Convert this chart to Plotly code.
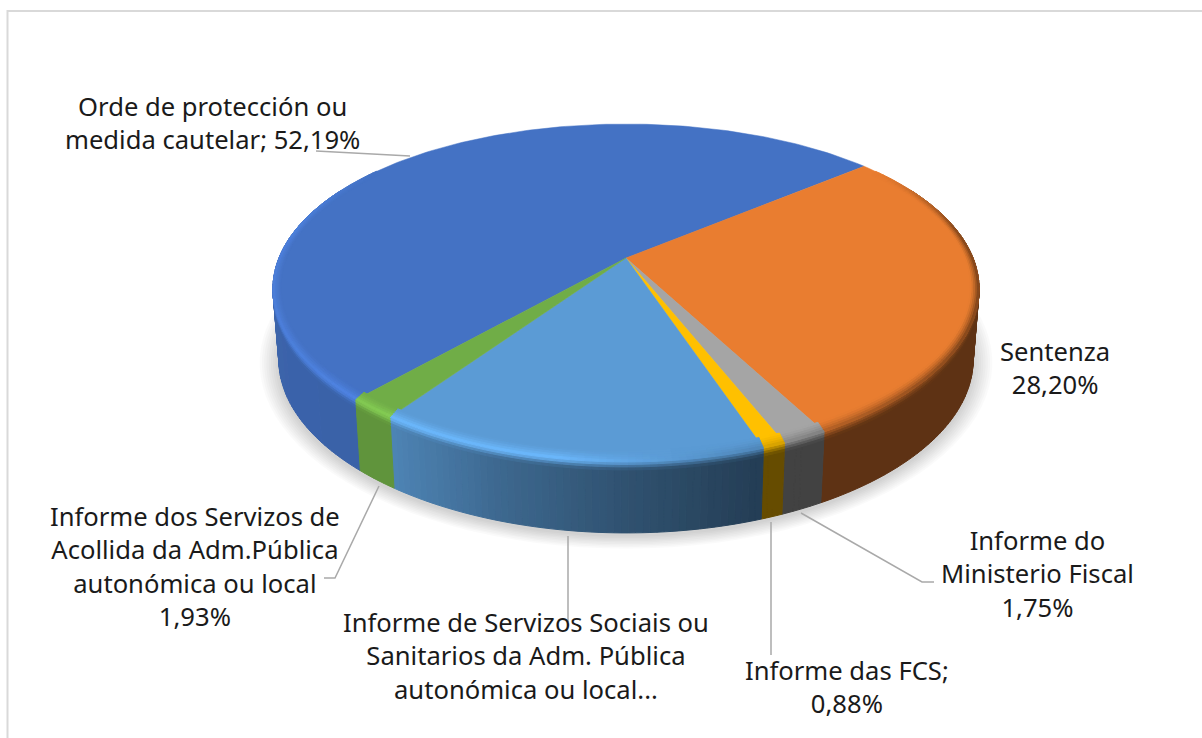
import math
import numpy as np
import plotly.graph_objects as go

# ---- data ----
categories = ["Orde de protección ou medida cautelar", "Sentenza", "Informe do Ministerio Fiscal",
              "Informe das FCS", "Informe de Servizos Sociais ou Sanitarios da Adm. Pública autonómica ou local",
              "Informe dos Servizos de Acollida da Adm.Pública autonómica ou local"]
values = [52.19, 28.20, 1.75, 0.88, 15.05, 1.93]
colors = ["#4472C4", "#E97D30", "#A5A5A5", "#FFC000", "#5B9BD5", "#70AD47"]
label_texts = [
    "Orde de protección ou<br>medida cautelar; 52,19%",
    "Sentenza<br>28,20%",
    "Informe do<br>Ministerio Fiscal<br>1,75%",
    "Informe das FCS;<br>0,88%",
    "Informe de Servizos Sociais ou<br>Sanitarios da Adm. Pública<br>autonómica ou local...",
    "Informe dos Servizos de<br>Acollida da Adm.Pública<br>autonómica ou local<br>1,93%",
]
label_pos = [(212, 123), (1055, 368), (1037, 574), (847, 687), (526, 656), (195, 566)]
leaders = [
    [(316, 151), (410, 156)],
    [(801, 513), (922, 582), (934, 582)],
    [(771, 522), (771, 655)],
    [(568, 536), (568, 622)],
    [(379, 486), (335, 578), (324, 578)],
]

# ---- projection of the pie disc ----
START = 50.0 - values[0] * 3.6
X0, Y0, R = 626.0, 258.0, 347.0
C, A = 0.207, -108.3
SKEW = 8.0
DEPTH, BOTTOM_SCALE = 71.0, 0.983
STEP = 1.0


def proj(theta, su=1.0, sv=1.0):
    t = math.radians(theta)
    u, v = math.sin(t) * su, math.cos(t) * sv
    w = 1 + C * v
    return X0 + (R * u + SKEW * u * v) / w, (A * v + Y0) / w


def bottom(theta, dy=DEPTH, scale=BOTTOM_SCALE):
    x, y = proj(theta)
    return X0 + (x - X0) * scale, y + dy


def hx(c):
    return [int(c[i:i + 2], 16) for i in (1, 3, 5)]


def rgb(base, f):
    return "rgb(%d,%d,%d)" % tuple(min(255, max(0, int(round(b * f / 2.0)) * 2)) for b in base)


def side_f(x):
    return float(np.interp(x, [271, 390, 500, 620, 760, 981], [0.87, 0.85, 0.67, 0.53, 0.40, 0.40]))


def hl_f(x):
    return float(np.interp(x, [271, 390, 560, 660, 760, 981], [1.12, 1.2, 1.2, 1.02, 0.85, 0.5]))


fig = go.Figure()


def add_polys(groups):
    for col, polys in groups.items():
        xs, ys = [], []
        for p in polys:
            xs += [q[0] for q in p] + [p[0][0], None]
            ys += [q[1] for q in p] + [p[0][1], None]
        fig.add_trace(go.Scatter(x=xs, y=ys, mode="lines", fill="toself", fillcolor=col,
                                 line=dict(color=col, width=1, simplify=False),
                                 hoverinfo="skip", showlegend=False))


# slice angle spans
spans = []
a = START
for val in values:
    b = a + val * 3.6
    spans.append((a, b))
    a = b


def segs(a, b):
    n = max(1, int(math.ceil((b - a) / STEP)))
    e = np.linspace(a, b, n + 1)
    return list(zip(e[:-1], e[1:]))


# soft shadow under the disc
ts = np.arange(0, 360, 3.0)
for i in range(9):
    d = 13 - i * 1.5
    pts = [bottom(t, DEPTH + 3, BOTTOM_SCALE) for t in ts]
    cy = 293 + DEPTH + 3
    xs = [X0 + (p[0] - X0) * (1 + 1.5 * d / 350) for p in pts]
    ys = [cy + (p[1] - cy) * (1 + d / 172) for p in pts]
    fig.add_trace(go.Scatter(x=xs + xs[:1], y=ys + ys[:1], mode="lines", fill="toself",
                             fillcolor="rgba(0,0,0,0.018)", line=dict(width=0),
                             hoverinfo="skip", showlegend=False))

# side wall
groups = {}
for (a, b), c in zip(spans, colors):
    base = hx(c)
    for t0, t1 in segs(a, b):
        if math.cos(math.radians((t0 + t1) / 2)) > 0.45:
            continue
        p = [proj(t0), proj(t1), bottom(t1), bottom(t0)]
        xm = (p[0][0] + p[1][0]) / 2
        groups.setdefault(rgb(base, side_f(xm)), []).append(p)
add_polys(groups)

# rounded transition between the rim and the wall
SIDE_BANDS = [(0.0, 2.5, 0.25), (2.5, 5.0, 0.6), (5.0, 8.0, 0.9)]
for y0, y1, k in reversed(SIDE_BANDS):
    groups = {}
    for (a, b), c in zip(spans, colors):
        base = hx(c)
        for t0, t1 in segs(a, b):
            if math.cos(math.radians((t0 + t1) / 2)) > 0.45:
                continue
            sc0, sc1 = 1 - 0.017 * y0 / DEPTH, 1 - 0.017 * y1 / DEPTH
            p = [bottom(t0, y0, sc0), bottom(t1, y0, sc0), bottom(t1, y1, sc1), bottom(t0, y1, sc1)]
            xm = (p[0][0] + p[1][0]) / 2
            f = hl_f(xm) * (1 - k) + side_f(xm) * k
            groups.setdefault(rgb(base, f), []).append(p)
    add_polys(groups)

# top face wedges (apex at the disc centre)
for (a, b), c in zip(spans, colors):
    pts = [proj(t) for t in np.arange(a, b, 1.0)] + [proj(b)]
    xs = [X0] + [p[0] for p in pts] + [X0]
    ys = [Y0] + [p[1] for p in pts] + [Y0]
    fig.add_trace(go.Scatter(x=xs, y=ys, mode="lines", fill="toself", fillcolor=c,
                             line=dict(color=c, width=0.5), hoverinfo="skip", showlegend=False))

# bevel ring on the top face
BANDS = 5
for k in range(BANDS):
    s0, s1 = k / BANDS, (k + 1) / BANDS
    t = (k + 0.5) / BANDS
    groups = {}
    for (a, b), c in zip(spans, colors):
        base = hx(c)
        for t0, t1 in segs(a, b):
            v = math.cos(math.radians((t0 + t1) / 2))
            w = min(1.0, max(0.0, (0.6 - v) / 0.4))
            if w <= 0:
                continue
            du, dv = 0.023, 0.045
            p = [proj(t0, 1 - du * (1 - s0), 1 - dv * (1 - s0)), proj(t1, 1 - du * (1 - s0), 1 - dv * (1 - s0)),
                 proj(t1, 1 - du * (1 - s1), 1 - dv * (1 - s1)), proj(t0, 1 - du * (1 - s1), 1 - dv * (1 - s1))]
            xm = (p[0][0] + p[1][0]) / 2
            f = 1 + (hl_f(xm) - 1) * w * t ** 1.5
            groups.setdefault(rgb(base, f), []).append(p)
    add_polys(groups)

# leader lines
for ln in leaders:
    fig.add_trace(go.Scatter(x=[p[0] for p in ln], y=[p[1] for p in ln], mode="lines",
                             line=dict(color="#a9a9a9", width=1.5), hoverinfo="skip", showlegend=False))

# labels
for txt, (x, y) in zip(label_texts, label_pos):
    fig.add_annotation(x=x, y=y, text=txt, showarrow=False, xanchor="center", yanchor="middle", align="center",
                       font=dict(family="Noto Sans", size=25.6, color="#1a1a1a"))

# chart frame
fig.add_trace(go.Scatter(x=[7.5, 7.5, 1202], y=[738, 11, 11], mode="lines",
                         line=dict(color="#d9d9d9", width=2), hoverinfo="skip", showlegend=False))

fig.update_layout(width=1202, height=738, margin=dict(l=0, r=0, t=0, b=0), showlegend=False,
                  paper_bgcolor="white", plot_bgcolor="white",
                  xaxis=dict(range=[0, 1202], visible=False, fixedrange=True),
                  yaxis=dict(range=[738, 0], visible=False, fixedrange=True))
fig.write_html("out.html", config=dict(displayModeBar=False),
               post_script="document.body.style.margin='0';document.documentElement.style.overflow='hidden';")
